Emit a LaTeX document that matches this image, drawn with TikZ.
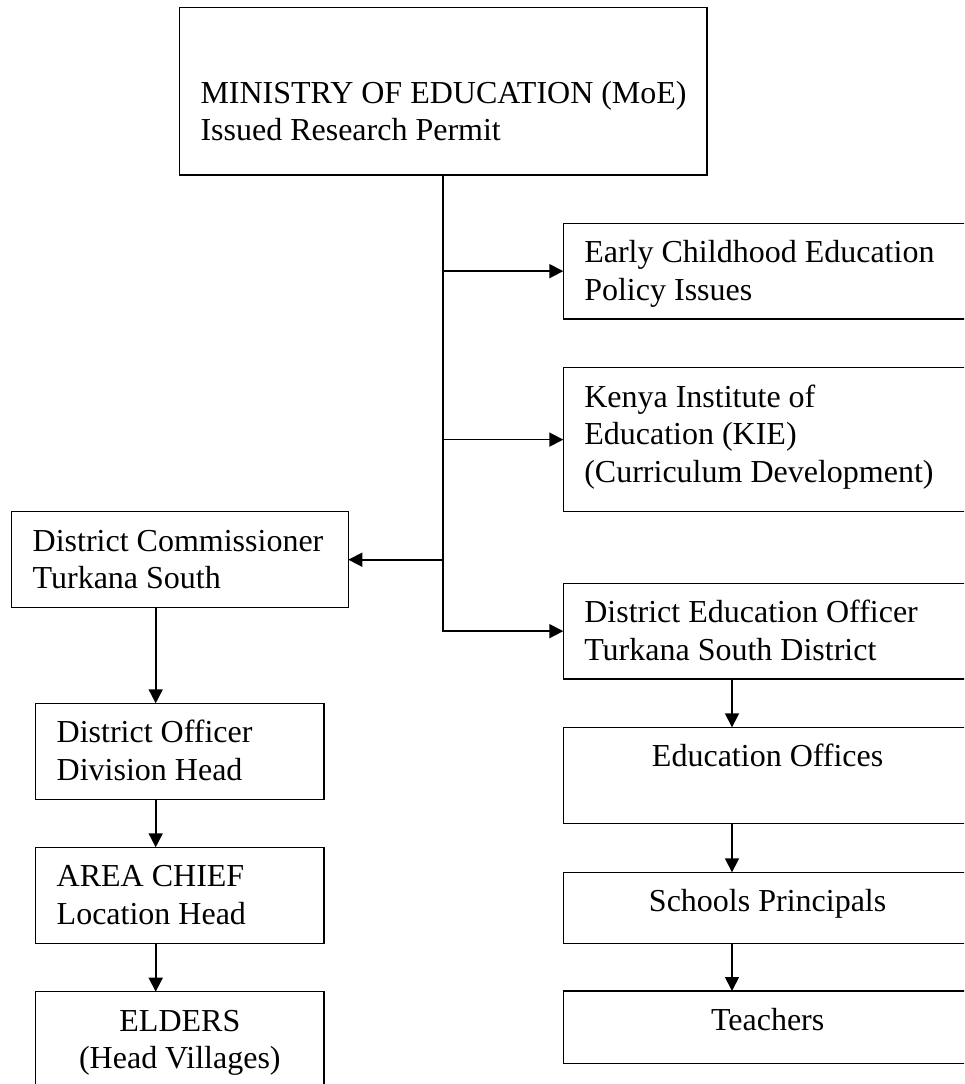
\documentclass[tikz,border=0pt]{standalone}
\usepackage{fontspec}
\setmainfont{Liberation Serif}
\usetikzlibrary{arrows.meta}
\tikzset{>={Triangle[length=14pt,width=14pt]}}
\tikzset{
    unit/.style={draw, line width=1.1pt, inner xsep=21pt, inner ysep=0pt, outer sep=0pt,
        anchor=north west, font=\fontsize{32}{37.5}\selectfont},
    link/.style={->, line width=1.7pt},
}
% text box: [first baseline]{width}{height}{lines}
\newcommand{\boxtext}[4][39.5pt]{\parbox[c][#3][t]{#2}{\rule{0pt}{#1}#4}}

\begin{document}
\begin{tikzpicture}[x=1pt, y=-1pt]
        \useasboundingbox (0,0) rectangle (964,1084);
        \clip (0,0) rectangle (964,1084);
        % top
        \node[unit] (moe) at (179.5,7.3) {\boxtext[95.7pt]{485.5pt}{167.7pt}{\raggedright \mbox{MINISTRY OF EDUCATION (MoE)}\\Issued Research Permit}};
        % right column
        \node[unit] (ece) at (563.3,223.3) {\boxtext{366.7pt}{95.7pt}{\raggedright Early Childhood Education\\Policy Issues}};
        \node[unit] (kie) at (563.3,367.7) {\boxtext{366.7pt}{143.8pt}{\raggedright Kenya Institute of\\Education (KIE)\\(Curriculum Development)}};
        \node[unit] (deo) at (563.3,583.3) {\boxtext{366.7pt}{95.7pt}{\raggedright District Education Officer\\Turkana South District}};
        \node[unit] (eo) at (563.3,727.3) {\boxtext{366.7pt}{96pt}{\centering Education Offices}};
        \node[unit] (sp) at (563.3,872.3) {\boxtext{366.7pt}{71pt}{\centering Schools Principals}};
        \node[unit] (tch) at (563.3,991) {\boxtext{366.7pt}{72.3pt}{\centering Teachers}};
        % left column
        \node[unit] (dc) at (11.7,511.7) {\boxtext{294.6pt}{96pt}{\raggedright District Commissioner\\Turkana South}};
        \node[unit] (do) at (35.7,703.3) {\boxtext{246.3pt}{96pt}{\raggedright District Officer\\Division Head}};
        \node[unit] (ac) at (35.7,847.3) {\boxtext{246.3pt}{96.4pt}{\raggedright AREA CHIEF\\Location Head}};
        \node[unit] (eld) at (35.7,991.7) {\boxtext{246.3pt}{100pt}{\centering ELDERS\\(Head Villages)}};
        % connectors
        \coordinate (leftx) at (155.7,0);
        \coordinate (rightx) at (732,0);
        \draw[link] (moe.south) |- (deo.west);
        \foreach \n in {ece, kie}
            \draw[link] (moe.south |- \n.west) -- (\n.west);
        \draw[link] (moe.south |- dc.east) -- (dc.east);
        \foreach \a/\b in {dc/do, do/ac, ac/eld}
            \draw[link] (leftx |- \a.south) -- (leftx |- \b.north);
        \foreach \a/\b in {deo/eo, eo/sp, sp/tch}
            \draw[link] (rightx |- \a.south) -- (rightx |- \b.north);
\end{tikzpicture}
\end{document}
